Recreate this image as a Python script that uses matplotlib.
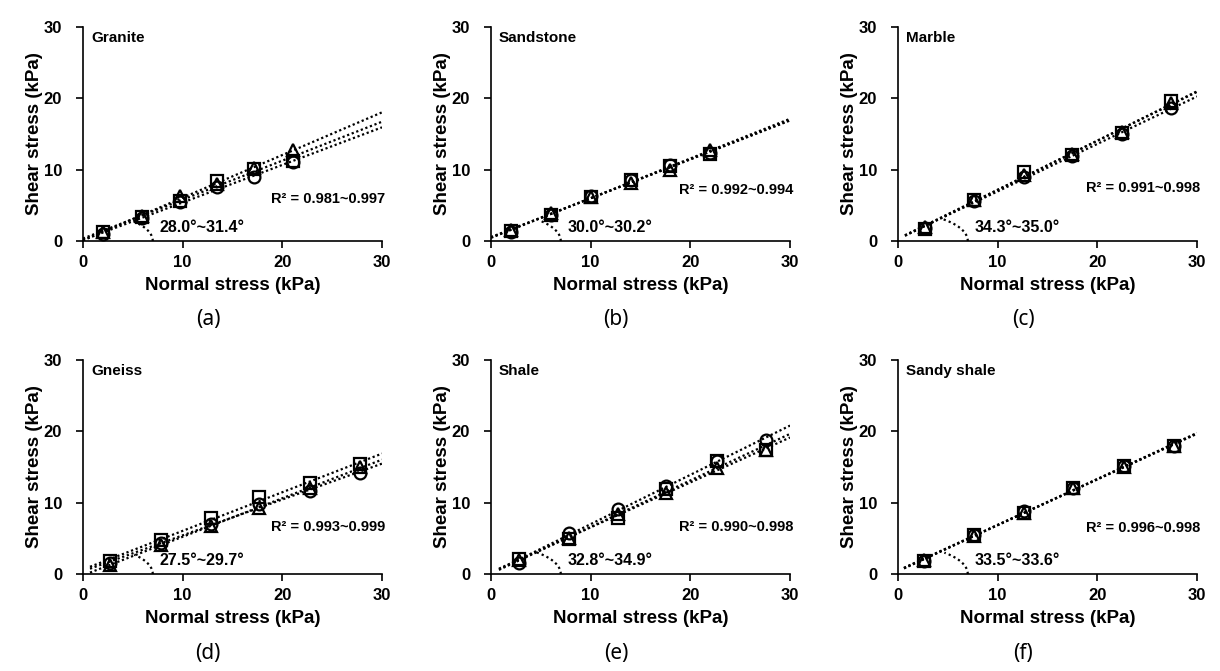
import numpy as np
import matplotlib
matplotlib.use("Agg")
import matplotlib.pyplot as plt

plt.rcParams['font.family'] = ['Liberation Sans', 'DejaVu Sans']

# ---- data (normal stress, shear stress in kPa) ----
ROCKS = ['Granite', 'Sandstone', 'Marble', 'Gneiss', 'Shale', 'Sandy shale']
PANEL_TAGS = ['(a)', '(b)', '(c)', '(d)', '(e)', '(f)']
R2_TEXT = ['R\u00b2 = 0.981~0.997', 'R\u00b2 = 0.992~0.994', 'R\u00b2 = 0.991~0.998',
           'R\u00b2 = 0.993~0.999', 'R\u00b2 = 0.990~0.998', 'R\u00b2 = 0.996~0.998']
ANGLE_TEXT = ['28.0\u00b0~31.4\u00b0', '30.0\u00b0~30.2\u00b0', '34.3\u00b0~35.0\u00b0',
              '27.5\u00b0~29.7\u00b0', '32.8\u00b0~34.9\u00b0', '33.5\u00b0~33.6\u00b0']

normal_granite = [2.0, 5.9, 9.7, 13.4, 17.2, 21.1]
normal_sandstone = [2.0, 6.0, 10.0, 14.0, 18.0, 22.0]
normal_marble = [2.7, 7.6, 12.6, 17.5, 22.5, 27.4]
normal_gneiss = [2.7, 7.8, 12.8, 17.7, 22.8, 27.8]
normal_shale = [2.8, 7.8, 12.7, 17.6, 22.7, 27.6]
normal_sandy = [2.6, 7.6, 12.6, 17.6, 22.7, 27.7]

# shear stress for the three specimens: circle, square, triangle
granite_o = [1.0, 3.2, 5.4, 7.6, 9.0, 11.1]
granite_s = [1.3, 3.3, 5.6, 8.4, 10.1, 11.2]
granite_t = [1.2, 3.5, 6.3, 8.0, 10.3, 12.7]

sandstone_o = [1.3, 3.7, 6.3, 8.5, 10.6, 12.3]
sandstone_s = [1.4, 3.7, 6.2, 8.5, 10.5, 12.2]
sandstone_t = [1.5, 3.9, 6.2, 8.2, 10.0, 12.7]

marble_o = [1.8, 5.6, 9.0, 11.9, 15.0, 18.6]
marble_s = [1.7, 5.8, 9.7, 12.0, 15.1, 19.6]
marble_t = [2.0, 5.7, 9.3, 12.2, 15.3, 19.4]

gneiss_o = [1.5, 4.3, 7.0, 9.8, 11.6, 14.2]
gneiss_s = [1.8, 4.8, 7.8, 10.8, 12.8, 15.4]
gneiss_t = [1.3, 4.1, 6.7, 9.3, 12.0, 15.0]

shale_o = [1.6, 5.7, 9.1, 12.4, 15.9, 18.8]
shale_s = [2.1, 4.9, 7.8, 11.9, 15.8, 17.4]
shale_t = [2.0, 5.0, 8.4, 11.3, 14.8, 17.4]

sandy_o = [1.8, 5.4, 8.9, 12.0, 15.1, 17.9]
sandy_s = [1.8, 5.5, 8.5, 12.0, 15.2, 18.0]
sandy_t = [1.9, 5.3, 8.6, 12.1, 15.0, 17.9]

NORMALS = [normal_granite, normal_sandstone, normal_marble,
           normal_gneiss, normal_shale, normal_sandy]
SHEARS = [(granite_o, granite_s, granite_t),
          (sandstone_o, sandstone_s, sandstone_t),
          (marble_o, marble_s, marble_t),
          (gneiss_o, gneiss_s, gneiss_t),
          (shale_o, shale_s, shale_t),
          (sandy_o, sandy_s, sandy_t)]
R2_Y = [5.9, 7.1, 7.4, 6.6, 6.6, 6.4]

MARKERS = ['o', 's', '^']

# ---- layout (pixels of a 1220x671 figure) ----
W, H = 1220, 671
LEFTS = [83, 491, 898]
TOPS = [27, 360]
AX_W, AX_H = 299, 214

fig = plt.figure(figsize=(12.2, 6.71), dpi=100)

for i in range(6):
    row, col = divmod(i, 3)
    left = LEFTS[col]
    top = TOPS[row]
    ax = fig.add_axes([left / W, 1 - (top + AX_H) / H, AX_W / W, AX_H / H])

    x = np.array(NORMALS[i])
    slopes = []
    for ys, mk in zip(SHEARS[i], MARKERS):
        ys = np.array(ys)
        m, c = np.polyfit(x, ys, 1)
        slopes.append(m)
        # Excel style trendline: 2 kPa backward forecast, forward to 30
        xl = np.array([x.min() - 2, 30])
        ax.plot(xl, m * xl + c, color='black', lw=1.6, dashes=(1, 1.2),
                zorder=2)
        ax.plot(x, ys, linestyle='none', marker=mk, ms=8.5, mfc='none',
                mec='black', mew=1.6, zorder=3)

    # friction angle arc
    a_r, b_r = 7.0, 4.0
    t_end = np.arctan(np.mean(slopes) * a_r / b_r)
    t = np.linspace(0, t_end, 50)
    ax.plot(a_r * np.cos(t), b_r * np.sin(t), color='black', lw=1.6,
            dashes=(1, 1.4))

    ax.set_xlim(0, 30)
    ax.set_ylim(0, 30)
    ax.set_xticks([0, 10, 20, 30])
    ax.set_yticks([0, 10, 20, 30])
    for s in ['top', 'right']:
        ax.spines[s].set_visible(False)
    for s in ['left', 'bottom']:
        ax.spines[s].set_linewidth(1.2)
    ax.tick_params(axis='both', direction='out', length=5, width=1.2,
                   labelsize=12)
    ax.tick_params(axis='y', pad=10)
    ax.tick_params(axis='x', pad=5)
    for lab in ax.get_xticklabels() + ax.get_yticklabels():
        lab.set_fontweight('bold')

    ax.set_xlabel('Normal stress (kPa)', fontsize=13.5, fontweight='bold')
    ax.set_ylabel('Shear stress (kPa)', fontsize=13.5, fontweight='bold')
    ax.xaxis.set_label_coords(0.5, -36 / AX_H)
    ax.yaxis.set_label_coords(-40 / AX_W, 0.5)

    ax.text(0.8, 28.5, ROCKS[i], fontsize=11, fontweight='bold',
            va='center', ha='left')
    ax.text(30.3, R2_Y[i], R2_TEXT[i], fontsize=10.5, fontweight='bold',
            va='center', ha='right')
    ax.text(7.7, 1.9, ANGLE_TEXT[i], fontsize=11.5, fontweight='bold',
            va='center', ha='left')

    fig.text((left + 125) / W, 1 - (top + 293) / H, PANEL_TAGS[i],
             fontsize=15, family=['Noto Sans', 'DejaVu Sans'],
             ha='center', va='center')

fig.savefig('out.png', dpi=100)
